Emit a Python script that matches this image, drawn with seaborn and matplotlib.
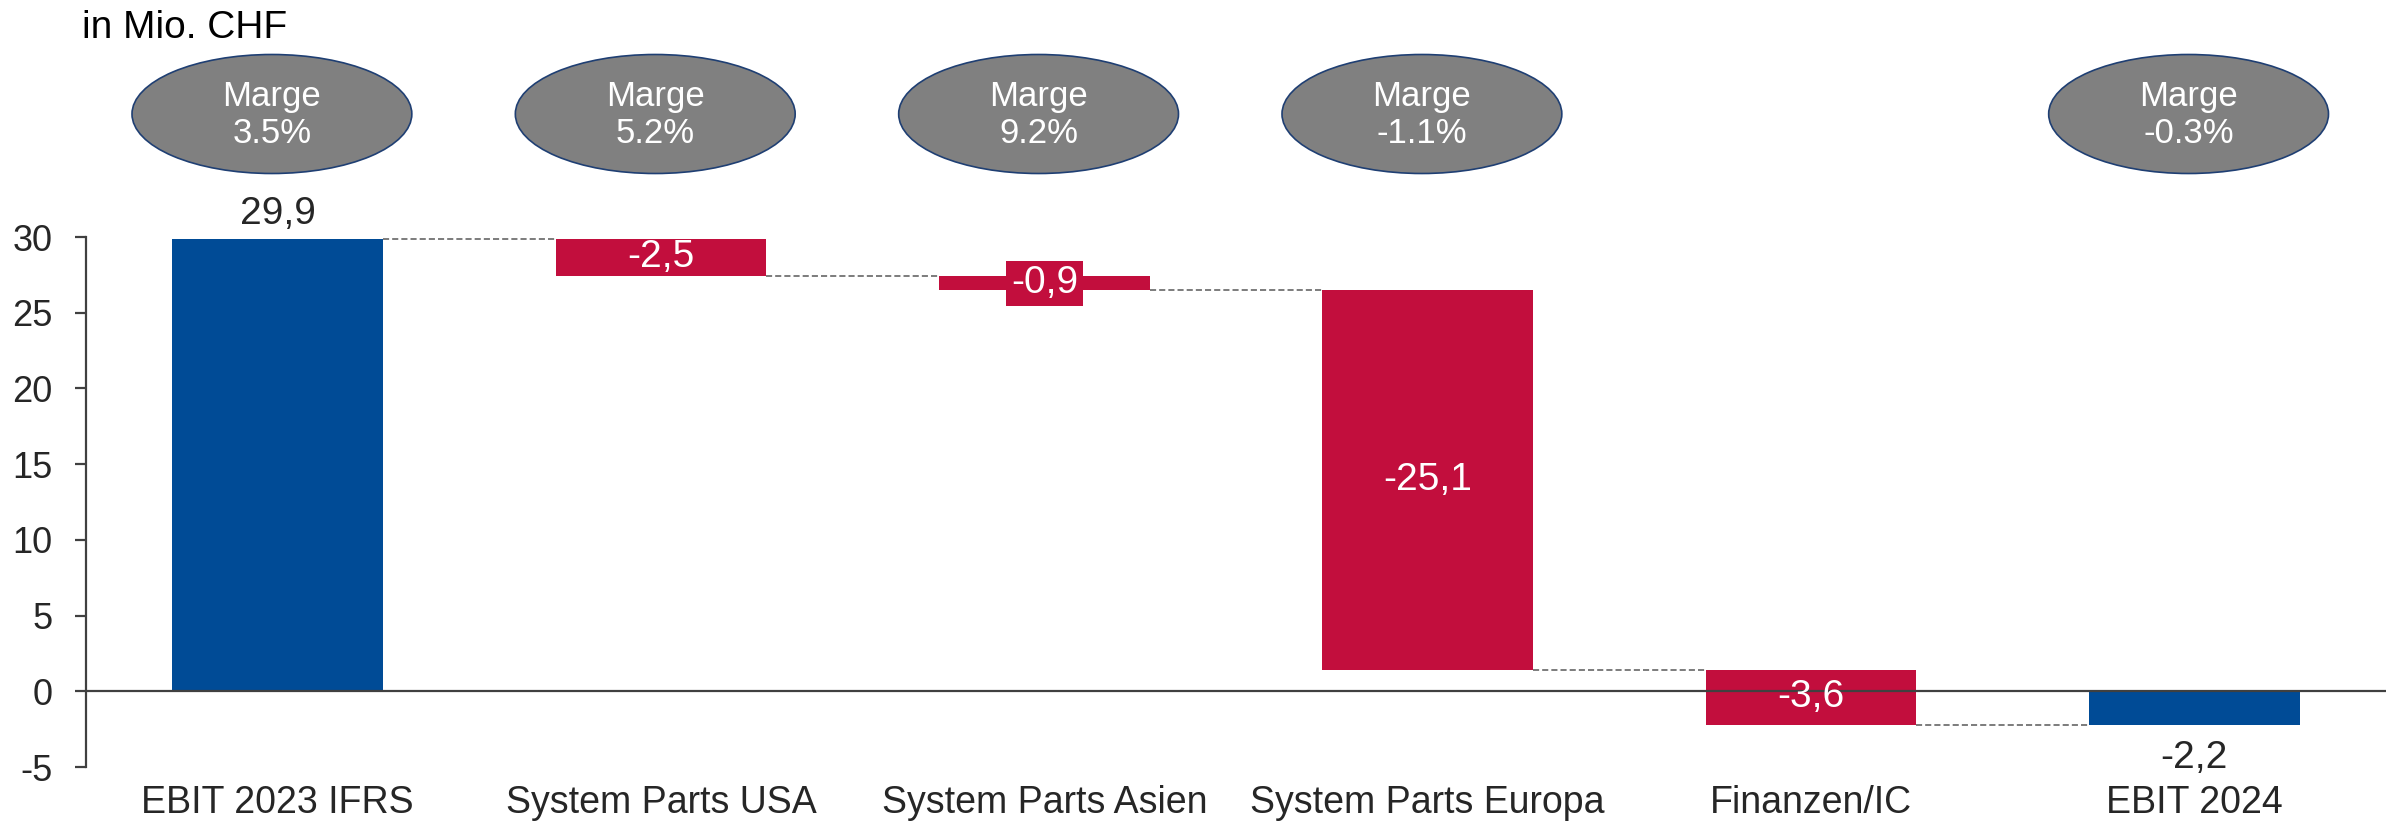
import matplotlib
matplotlib.use("Agg")
import matplotlib.pyplot as plt
from matplotlib.patches import Ellipse
from matplotlib.transforms import blended_transform_factory
import numpy as np
import seaborn as sns

# data
categories = ["EBIT 2023 IFRS", "System Parts USA", "System Parts Asien",
              "System Parts Europa", "Finanzen/IC", "EBIT 2024"]
values = [29.9, -2.5, -0.9, -25.1, -3.6, -2.2]
is_total = [True, False, False, False, False, True]
margins = ["3.5%", "5.2%", "9.2%", "-1.1%", None, "-0.3%"]

BLUE = "#004B96"
RED = "#C20E3D"
GREY_TXT = "#262626"

sns.set_style("white")
plt.rcParams["font.family"] = ["Liberation Sans", "DejaVu Sans"]
plt.rcParams["axes.unicode_minus"] = False

# waterfall bases
bottoms, heights, running = [], [], []
total = 0.0
for v, tot in zip(values, is_total):
    if tot:
        bottoms.append(0.0)
        heights.append(v)
        total = v
    else:
        bottoms.append(total)
        heights.append(v)
        total = total + v
    running.append(total)

fig = plt.figure(figsize=(23.97, 8.21), dpi=100)
ax = fig.add_axes([86 / 2397, 54 / 821, 2300 / 2397, 530 / 821])

sns.barplot(x=categories, y=heights, bottom=bottoms, width=0.55,
            color=BLUE, linewidth=0, ax=ax)
for patch, tot in zip(ax.patches, is_total):
    patch.set_facecolor(BLUE if tot else RED)
    patch.set_edgecolor("none")

ax.set_xlim(-0.5, 5.5)
ax.set_ylim(-5, 30)
ax.set_yticks(np.arange(-5, 31, 5))
ax.axhline(0, color="#404040", lw=1.6, zorder=1)

# connectors
for i in range(len(values) - 1):
    ax.plot([i + 0.275, i + 1 - 0.275], [running[i], running[i]],
            color="#595959", lw=1.1, ls=(0, (4, 2)), zorder=1)

# value labels
for i, (v, tot) in enumerate(zip(values, is_total)):
    txt = f"{v:.1f}".replace(".", ",")
    if tot:
        if v >= 0:
            ax.annotate(txt, (i, bottoms[i] + v), xytext=(0, 18), textcoords="offset points",
                        ha="center", va="center", fontsize=28, color=GREY_TXT)
        else:
            ax.annotate(txt, (i, bottoms[i] + v), xytext=(0, -24), textcoords="offset points",
                        ha="center", va="center", fontsize=28, color=GREY_TXT)
    else:
        mid = bottoms[i] + v / 2
        box = None
        if abs(v) < 1.5:
            box = dict(boxstyle="square,pad=0.12", fc=RED, ec="none")
        ax.text(i, mid, txt, ha="center", va="center", fontsize=28,
                color="white", bbox=box, zorder=5)

# margin ellipses above the plot
trans = blended_transform_factory(ax.transData, fig.transFigure)
for i, m in enumerate(margins):
    if m is None:
        continue
    e = Ellipse((i - 0.015, 1 - 114 / 821), width=0.73, height=119 / 821,
                transform=trans, facecolor="#808080", edgecolor="#1F3F73",
                lw=1.2, clip_on=False)
    ax.add_patch(e)
    ax.text(i - 0.015, 1 - 115 / 821, f"Marge\n{m}", transform=trans,
            ha="center", va="center", fontsize=25, color="white",
            linespacing=1.15)

fig.text(82 / 2397, 1 - 28 / 821, "in Mio. CHF", fontsize=28, color="black",
         ha="left", va="center")

sns.despine(ax=ax, top=True, right=True, bottom=True)
ax.spines["left"].set_color("#404040")
ax.spines["left"].set_linewidth(1.6)
ax.tick_params(axis="y", direction="out", length=8, width=1.6, color="#404040",
               pad=16, labelsize=26, labelcolor=GREY_TXT, left=True)
ax.tick_params(axis="x", length=0, pad=13, labelsize=27, labelcolor=GREY_TXT)
ax.set_xlabel("")
ax.set_ylabel("")

fig.savefig("out.png", dpi=100)
